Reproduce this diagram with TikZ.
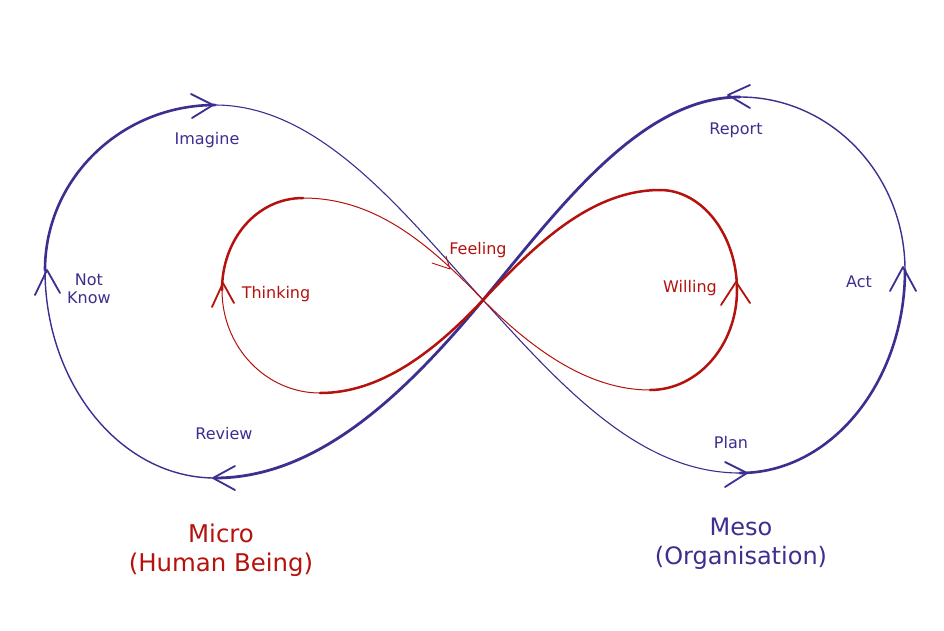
\documentclass[tikz,border=0pt]{standalone}
\usepackage{fontspec}
\setmainfont{DejaVu Sans}
\definecolor{bl}{HTML}{3B2F8F}
\definecolor{rd}{HTML}{B5120E}
\tikzset{
  bthick/.style={draw=bl, line width=2.6pt, line cap=round},
  bthin/.style={draw=bl, line width=1.1pt, line cap=round},
  rthick/.style={draw=rd, line width=2.5pt, line cap=round},
  rthin/.style={draw=rd, line width=1.0pt, line cap=round},
  bchev/.style={draw=bl, line width=1.8pt, line cap=round, line join=round},
  rchev/.style={draw=rd, line width=1.8pt, line cap=round, line join=round},
  lblb/.style={text=bl, font=\fontsize{16}{18}\selectfont, align=center, inner sep=0pt},
  lblr/.style={text=rd, font=\fontsize{16}{18}\selectfont, align=center, inner sep=0pt},
  bigb/.style={text=bl, font=\fontsize{24}{29}\selectfont, align=center, inner sep=0pt},
  bigr/.style={text=rd, font=\fontsize{24.4}{29}\selectfont, align=center, inner sep=0pt}
}
\begin{document}
\begin{tikzpicture}[x=1pt,y=-1pt]
\useasboundingbox[fill=white] (0,0) rectangle (944,630);
% key points
\coordinate (C) at (483,300);
\coordinate (T1) at (215,105);
\coordinate (L) at (45,270);
\coordinate (B1) at (215,478);
\coordinate (T2) at (740,97);
\coordinate (R) at (905,270);
\coordinate (B2) at (740,473);
\coordinate (RC) at (483,300);
\coordinate (RT1) at (303,198);
\coordinate (RL) at (222,290);
\coordinate (RB1) at (320,393);
\coordinate (RT2) at (660,190);
\coordinate (RR) at (737,290);
\coordinate (RB2) at (650,390);

% blue lemniscate
\draw[bthin] (T1) .. controls (320,105) and (403,212) .. (C)
                  .. controls (563,388) and (640,473) .. (B2);
\draw[bthick] (B2) .. controls (831,473) and (905,382) .. (R);
\draw[bthin, line width=1.4pt] (R) .. controls (905,175) and (831,97) .. (T2);
\draw[bthick, line width=2.8pt] (T2) .. controls (640,97) and (558,210) .. (C)
                  .. controls (408,390) and (320,478) .. (B1);
\draw[bthin, line width=1.4pt] (B1) .. controls (121,478) and (45,384) .. (L);
\draw[bthick] (L) .. controls (45,179) and (121,105) .. (T1);

% red lemniscate
\draw[rthin] (RT1) .. controls (375,198) and (428,243) .. (RC)
                  .. controls (535,352) and (590,390) .. (RB2);
\draw[rthick] (RB2) .. controls (698,390) and (737,345) .. (RR);
\draw[rthick] (RR) .. controls (737,235) and (702,190) .. (RT2);
\draw[rthick] (RT2) .. controls (590,190) and (533,247) .. (RC)
                  .. controls (433,353) and (380,393) .. (RB1);
\draw[rthin] (RB1) .. controls (266,393) and (222,347) .. (RL);
\draw[rthick] (RL) .. controls (222,239) and (257,198) .. (RT1);

% blue chevrons
\draw[bchev] (191,94) -- (213,105) -- (192,118);
\draw[bchev] (35,295) -- (47,270) -- (60,293);
\draw[bchev] (235,466) -- (213,478) -- (235,490);
\draw[bchev] (750,85) -- (728,95) -- (750,108);
\draw[bchev] (890,291) -- (903,267) -- (916,291);
\draw[bchev] (725,462) -- (747,473) -- (725,487);
% red chevrons
\draw[rchev] (212,307) -- (223,283) -- (234,303);
\draw[rchev] (721,305) -- (736,282) -- (750,303);
\draw[rchev, line width=0.9pt] (432,263) -- (450,269) -- (446,256);

% labels
\node[lblb] (imagine) at (207,140) {Imagine};
\node[lblb] (notknow) at (89,289) {Not\\Know};
\node[lblb] (review) at (224,434) {Review};
\node[lblb] (report) at (736,130) {Report};
\node[lblb] (act) at (859,282) {Act};
\node[lblb] (plan) at (731,443) {Plan};
\node[lblr] (thinking) at (276,294) {Thinking};
\node[lblr] (feeling) at (478,250) {Feeling};
\node[lblr] (willing) at (690,288) {Willing};
\node[bigr] (micro) at (221,550) {Micro\\(Human Being)};
\node[bigb] (meso) at (741,544) {Meso\\(Organisation)};
\end{tikzpicture}
\end{document}
